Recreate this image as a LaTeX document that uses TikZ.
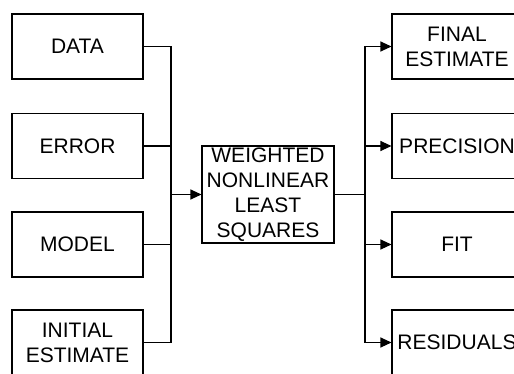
\documentclass[tikz,border=0pt]{standalone}
\usepackage{fontspec}
\setmainfont{Liberation Sans}
\usetikzlibrary{arrows.meta}
\begin{document}
\begin{tikzpicture}[x=1pt,y=1pt,
  box/.style={draw=black, line width=1.1pt, minimum width=131pt, minimum height=65pt, inner sep=0pt, align=center, font=\fontsize{21}{25}\selectfont},
  conn/.style={line width=1.1pt, draw=black},
  arr/.style={conn, -{Triangle[length=11pt,width=10pt]}}]
\clip (0,0) rectangle (514,373);
\fill[white] (0,0) rectangle (514,373);
% left boxes
\node[box] (data) at (77.5,326.5) {DATA};
\node[box] (error) at (77.5,227) {ERROR};
\node[box] (model) at (77.5,128.5) {MODEL};
\node[box] (init) at (77.5,30.5) {INITIAL\\ESTIMATE};
% center
\node[box, minimum width=132pt, minimum height=97pt] (wnls) at (268,178.5) {WEIGHTED\\NONLINEAR\\LEAST\\SQUARES};
% right boxes
\node[box, minimum width=130pt] (final) at (457,326.5) {FINAL\\ESTIMATE};
\node[box, minimum width=130pt] (prec) at (457,227) {PRECISION};
\node[box, minimum width=130pt] (fit) at (457,128.5) {FIT};
\node[box, minimum width=130pt] (resid) at (457,30.5) {RESIDUALS};
% buses
\coordinate (lb) at (171,178.5);
\coordinate (rb) at (365,178.5);
\draw[conn] (data.east) -| (lb);
\draw[conn] (error.east) -| (lb);
\draw[conn] (model.east) -| (lb);
\draw[conn] (init.east) -| (lb);
\draw[arr] (lb) -- (wnls.west);
\draw[conn] (wnls.east) -- (rb);
\draw[arr] (rb) |- (final.west);
\draw[arr] (rb) |- (prec.west);
\draw[arr] (rb) |- (fit.west);
\draw[arr] (rb) |- (resid.west);
\end{tikzpicture}
\end{document}
